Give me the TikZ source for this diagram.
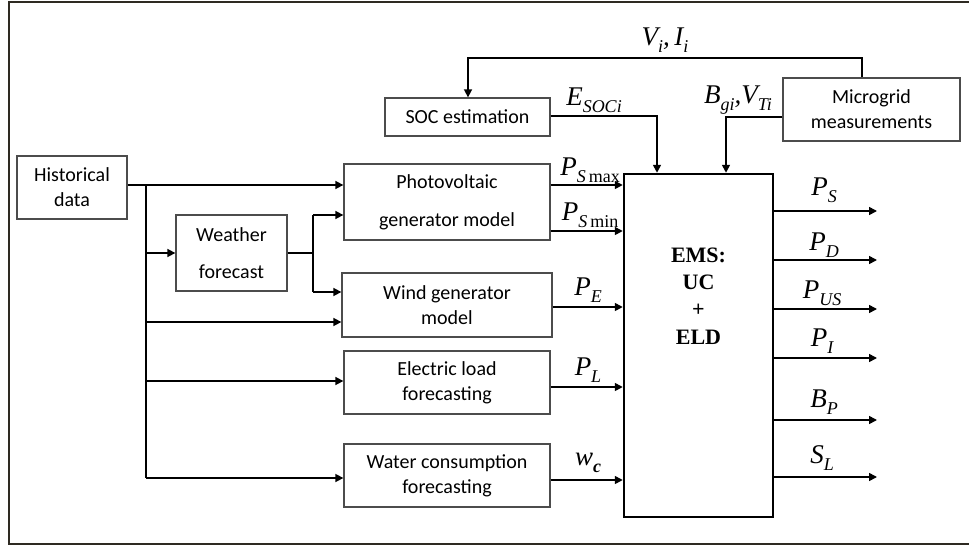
\documentclass[tikz,border=0pt]{standalone}
\usepackage{fontspec}
\setmainfont{Carlito}
\newfontfamily\tms{Liberation Serif}
\usetikzlibrary{arrows.meta}
\newcommand\ml[2]{{\tms\fontsize{27}{30}\selectfont\itshape #1\raisebox{-7pt}{\fontsize{18}{20}\selectfont #2}}}
\begin{document}
\begin{tikzpicture}[x=1pt,y=-1pt,
  box/.style={draw=black!70,line width=1.3pt,inner sep=0pt,align=center,
    font=\fontsize{20}{25}\selectfont},
  arr/.style={line width=1.6pt,-{Triangle[length=8pt,width=8pt]}},
  ln/.style={line width=1.6pt},
  lbl/.style={inner sep=0pt}]
\useasboundingbox (0,0) rectangle (969,546);
\draw[line width=2.5pt,color={rgb,255:red,46;green,42;blue,34}] (969,2) -- (9,2) -- (9,544) -- (969,544);

\node[box,minimum width=110pt,minimum height=63pt] (hist) at (72,187.5) {Historical\\data};
\node[box,minimum width=111pt,minimum height=76pt,font=\fontsize{20}{37}\selectfont] (wf) at (231.5,253) {Weather\\forecast};
\node[box,minimum width=165pt,minimum height=38pt] (soc) at (467.5,117) {SOC estimation};
\node[box,minimum width=206pt,minimum height=76pt,font=\fontsize{20}{38}\selectfont] (pv) at (447,202) {Photovoltaic\\generator model};
\node[box,minimum width=210pt,minimum height=64pt] (wind) at (447,305) {Wind generator\\model};
\node[box,minimum width=206pt,minimum height=63pt] (load) at (447,382.5) {Electric load\\forecasting};
\node[box,minimum width=206pt,minimum height=63pt] (water) at (447,475.5) {Water consumption\\forecasting};
\node[draw=black,line width=2.5pt,minimum width=149pt,minimum height=343pt] (ems) at (698.5,345.5) {};
\node[lbl,align=center,font=\tms\bfseries\fontsize{22}{27.3}\selectfont] (emst) at (698.5,296) {EMS:\\UC\\+\\ELD};
\node[box,minimum width=177pt,minimum height=63pt] (mg) at (871.5,109.5) {Microgrid\\measurements};

% left distribution
\coordinate (tr) at (146,185);
\coordinate (tb) at (146,478);
\draw[arr] (hist.east |- tr) -- (pv.west |- tr);
\draw[ln] (tr) -- (tb);
\draw[arr] (tb) -- (water.west |- tb);
\draw[arr] (146,253) -- (wf.west |- 0,253);
\draw[arr] (146,322) -- (wind.west |- 0,322);
\draw[arr] (146,381) -- (load.west |- 0,381);
% weather split
\coordinate (ws) at (313,253);
\draw[ln] (wf.east |- ws) -- (ws);
\draw[ln] (313,215) -- (313,292);
\draw[arr] (313,215) -- (pv.west |- 0,215);
\draw[arr] (313,292) -- (wind.west |- 0,292);

% inputs to EMS
\coordinate (c1) at (657,116);
\coordinate (c2) at (726,117);
\coordinate (c3) at (862,58);
\coordinate (c4) at (468,58);
\draw[arr] (pv.east |- 0,185) -- (ems.west |- 0,185);
\draw[arr] (pv.east |- 0,231) -- (ems.west |- 0,231);
\draw[arr] (wind.east |- 0,307) -- (ems.west |- 0,307);
\draw[arr] (load.east |- 0,387) -- (ems.west |- 0,387);
\draw[arr] (water.east |- 0,480) -- (ems.west |- 0,480);
\draw[arr] (soc.east |- c1) -- (c1) -- (c1 |- ems.north);
\draw[arr] (mg.west |- c2) -- (c2) -- (c2 |- ems.north);
\draw[arr] (c3 |- mg.north) -- (c3) -- (c4) -- (c4 |- soc.north);

% outputs
\foreach \yy in {211,260,309,358,420,477}
  \draw[arr] (ems.east |- 0,\yy) -- (877,\yy);

% labels
\node[lbl] (lvi) at (665,40) {\ml{V}{i}\ml{,\,I}{i}};
\node[lbl] (lsoc) at (594,100) {\ml{E}{SOCi}};
\node[lbl] (lbg) at (738,100) {\ml{B}{gi}\ml{,V}{Ti}};
\node[lbl] (lsmax) at (590,170) {\ml{P}{S\,\upshape max}};
\node[lbl] (lsmin) at (590,215) {\ml{P}{S\,\upshape min}};
\node[lbl] (lpe) at (588,290) {\ml{P}{E}};
\node[lbl] (lpl) at (588,370) {\ml{P}{L}};
\node[lbl] (lwc) at (588,463) {\ml{w}{\bfseries c}};
\node[lbl] (lps) at (824,190) {\ml{P}{S}};
\node[lbl] (lpd) at (824,245) {\ml{P}{D}};
\node[lbl] (lpus) at (822,293) {\ml{P}{US}};
\node[lbl] (lpi) at (822,341) {\ml{P}{I}};
\node[lbl] (lbp) at (824,402) {\ml{B}{P}};
\node[lbl] (lsl) at (822,458) {\ml{S}{L}};
\end{tikzpicture}
\end{document}
